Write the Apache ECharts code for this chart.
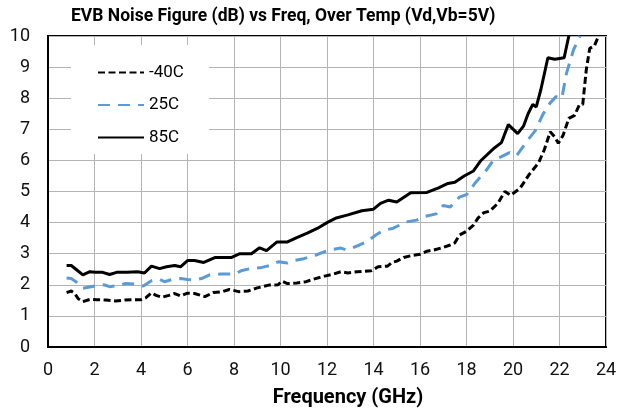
<!DOCTYPE html>
<html>
<head>
<meta charset="utf-8">
<script src="https://cdn.jsdelivr.net/npm/echarts@6/dist/echarts.min.js"></script>
<style>
  html, body { margin: 0; padding: 0; background: #fff; }
  #chart { width: 620px; height: 409px; }
</style>
</head>
<body>
<div id="chart"></div>
<script>
var dom = document.getElementById("chart");
var myChart = echarts.init(dom);

// -40C
var freqCold = [0.8, 1.0, 1.15, 1.3, 1.5, 1.8, 2.1, 2.5, 2.9, 3.3, 3.7, 4.0, 4.2, 4.45, 4.65, 4.9, 5.2, 5.45, 5.7, 6.0,
  6.3, 6.75, 7.1, 7.5, 7.8, 8.2, 8.6, 9.0, 9.5, 9.9, 10.05, 10.3, 10.7, 11.1, 11.5, 11.9, 12.3, 12.6, 12.9, 13.3,
  13.9, 14.2, 14.6, 14.8, 15.0, 15.3, 15.7, 16.0, 16.3, 16.6, 17.0, 17.3, 17.5, 17.7, 18.0, 18.3, 18.5, 18.75, 19.0, 19.35,
  19.65, 19.9, 20.3, 20.7, 21.1, 21.35, 21.6, 21.8, 21.95, 22.15, 22.4, 22.65, 22.85, 23.0, 23.15, 23.3, 23.5, 23.68];
var nfCold = [1.75, 1.8, 1.72, 1.55, 1.46, 1.53, 1.52, 1.51, 1.48, 1.51, 1.52, 1.52, 1.58, 1.74, 1.66, 1.6, 1.66, 1.72, 1.64, 1.73,
  1.72, 1.62, 1.75, 1.78, 1.85, 1.78, 1.8, 1.9, 1.99, 2.0, 2.12, 2.04, 2.06, 2.1, 2.2, 2.28, 2.35, 2.42, 2.38, 2.42,
  2.45, 2.58, 2.6, 2.72, 2.76, 2.88, 2.95, 2.98, 3.08, 3.12, 3.2, 3.28, 3.35, 3.6, 3.72, 3.92, 4.15, 4.32, 4.37, 4.62,
  5.0, 4.88, 5.1, 5.55, 5.92, 6.35, 6.92, 6.75, 6.55, 6.8, 7.35, 7.45, 7.78, 7.8, 8.9, 9.6, 9.68, 10.0];

// 25C
var freqRoom = [0.8, 1.0, 1.2, 1.5, 1.85, 2.2, 2.4, 2.65, 3.0, 3.35, 3.8, 4.1, 4.45, 4.8, 5.0, 5.35, 5.7, 6.0, 6.3, 6.6,
  6.95, 7.45, 8.05, 8.3, 8.7, 9.2, 9.55, 9.9, 10.3, 10.6, 11.0, 11.5, 12.1, 12.6, 12.85, 13.4, 13.7, 14.1, 14.4, 14.85,
  15.4, 15.85, 16.2, 16.7, 17.0, 17.3, 17.7, 18.0, 18.4, 18.85, 19.15, 19.5, 19.85, 20.15, 20.6, 20.95, 21.3, 21.6, 21.85, 22.1,
  22.3, 22.6, 22.88];
var nfRoom = [2.22, 2.2, 2.1, 1.89, 1.94, 1.98, 2.0, 1.94, 1.97, 2.04, 2.02, 1.96, 2.13, 2.18, 2.1, 2.17, 2.2, 2.17, 2.16, 2.2,
  2.32, 2.35, 2.35, 2.45, 2.52, 2.56, 2.62, 2.74, 2.7, 2.78, 2.84, 2.95, 3.12, 3.18, 3.12, 3.28, 3.38, 3.6, 3.74, 3.82,
  4.02, 4.08, 4.2, 4.28, 4.55, 4.5, 4.82, 4.9, 5.3, 5.68, 6.0, 6.12, 6.25, 6.15, 6.62, 6.95, 7.5, 7.85, 8.05, 8.0,
  8.8, 9.55, 10.0];

// 85C
var freqHot = [0.8, 1.0, 1.2, 1.5, 1.8, 2.05, 2.35, 2.65, 2.95, 3.4, 3.85, 4.15, 4.45, 4.8, 5.1, 5.45, 5.7, 6.0, 6.3, 6.7,
  7.2, 7.9, 8.25, 8.75, 9.1, 9.4, 9.85, 10.3, 10.7, 11.15, 11.6, 12.0, 12.4, 12.9, 13.5, 14.0, 14.3, 14.65, 15.0, 15.6,
  16.3, 16.8, 17.2, 17.5, 17.9, 18.3, 18.6, 19.2, 19.5, 19.8, 20.2, 20.45, 20.65, 20.85, 21.0, 21.2, 21.5, 21.8, 22.2, 22.4];
var nfHot = [2.62, 2.62, 2.5, 2.32, 2.42, 2.4, 2.4, 2.33, 2.4, 2.4, 2.42, 2.38, 2.6, 2.52, 2.58, 2.62, 2.58, 2.78, 2.78, 2.72,
  2.88, 2.88, 3.0, 3.0, 3.19, 3.1, 3.38, 3.38, 3.52, 3.66, 3.82, 4.0, 4.15, 4.25, 4.38, 4.43, 4.62, 4.72, 4.66, 4.96,
  4.97, 5.12, 5.26, 5.3, 5.5, 5.66, 5.98, 6.4, 6.57, 7.15, 6.86, 7.1, 7.5, 7.8, 7.72, 8.28, 9.3, 9.25, 9.3, 10.0];

var seriesNames = ['-40C', '25C', '85C'];

function pairs(xs, ys) {
	var out = [];
	for (var i = 0; i < xs.length; i++) {
		out.push([xs[i], ys[i]]);
	}
	return out;
}

var fontFam = 'Roboto, "Noto Sans", sans-serif';

option = {
	animation: false,
	title: {
		text: 'EVB Noise Figure (dB) vs Freq, Over Temp (Vd,Vb=5V)',
		left: 66,
		top: 3,
		textStyle: { fontFamily: fontFam, fontSize: 17.5, fontWeight: 'bold', color: '#000' }
	},
	legend: {
		orient: 'vertical',
		left: 71,
		top: 45,
		padding: [19, 25, 8, 26],
		itemWidth: 46,
		itemHeight: 14,
		itemGap: 15.5,
		backgroundColor: '#fff',
		itemStyle: { opacity: 0 },
		textStyle: { fontFamily: fontFam, fontSize: 17, color: '#000' },
		data: seriesNames
	},
	grid: {
		left: 48,
		right: 14,
		top: 36,
		bottom: 62,
		outerBoundsMode: 'none',
		show: true,
		borderColor: '#000',
		borderWidth: 2
	},
	xAxis: {
		type: 'value',
		min: 0,
		max: 24,
		interval: 2,
		name: 'Frequency (GHz)',
		nameLocation: 'middle',
		nameGap: 41,
		nameTextStyle: { fontFamily: fontFam, fontSize: 20, fontWeight: 'bold', color: '#000', padding: [0, 0, 0, 42] },
		axisLine: { lineStyle: { color: '#000', width: 2 } },
		axisTick: { show: false },
		axisLabel: { fontFamily: fontFam, fontSize: 18, color: '#111', margin: 14 },
		splitLine: { lineStyle: { color: '#b4b4b4', width: 1 } }
	},
	yAxis: {
		type: 'value',
		min: 0,
		max: 10,
		interval: 1,
		axisLine: { lineStyle: { color: '#000', width: 2 } },
		axisTick: { show: false },
		axisLabel: { fontFamily: fontFam, fontSize: 18, color: '#111', margin: 18 },
		splitLine: { lineStyle: { color: '#b4b4b4', width: 1 } }
	},
	series: [
		{
			name: seriesNames[0],
			type: 'line',
			showSymbol: false,
			symbol: 'none',
			data: pairs(freqCold, nfCold),
			lineStyle: { color: '#000', width: 3, type: [7, 3.5] },
			itemStyle: { color: '#000' }
		},
		{
			name: seriesNames[1],
			type: 'line',
			showSymbol: false,
			symbol: 'none',
			data: pairs(freqRoom, nfRoom),
			lineStyle: { color: '#5b9bd5', width: 3, type: [12, 8] },
			itemStyle: { color: '#5b9bd5' }
		},
		{
			name: seriesNames[2],
			type: 'line',
			showSymbol: false,
			symbol: 'none',
			data: pairs(freqHot, nfHot),
			lineStyle: { color: '#000', width: 3 },
			itemStyle: { color: '#000' }
		}
	]
};

if (option && typeof option === "object") {
	myChart.setOption(option, true);
}
</script>
</body>
</html>
